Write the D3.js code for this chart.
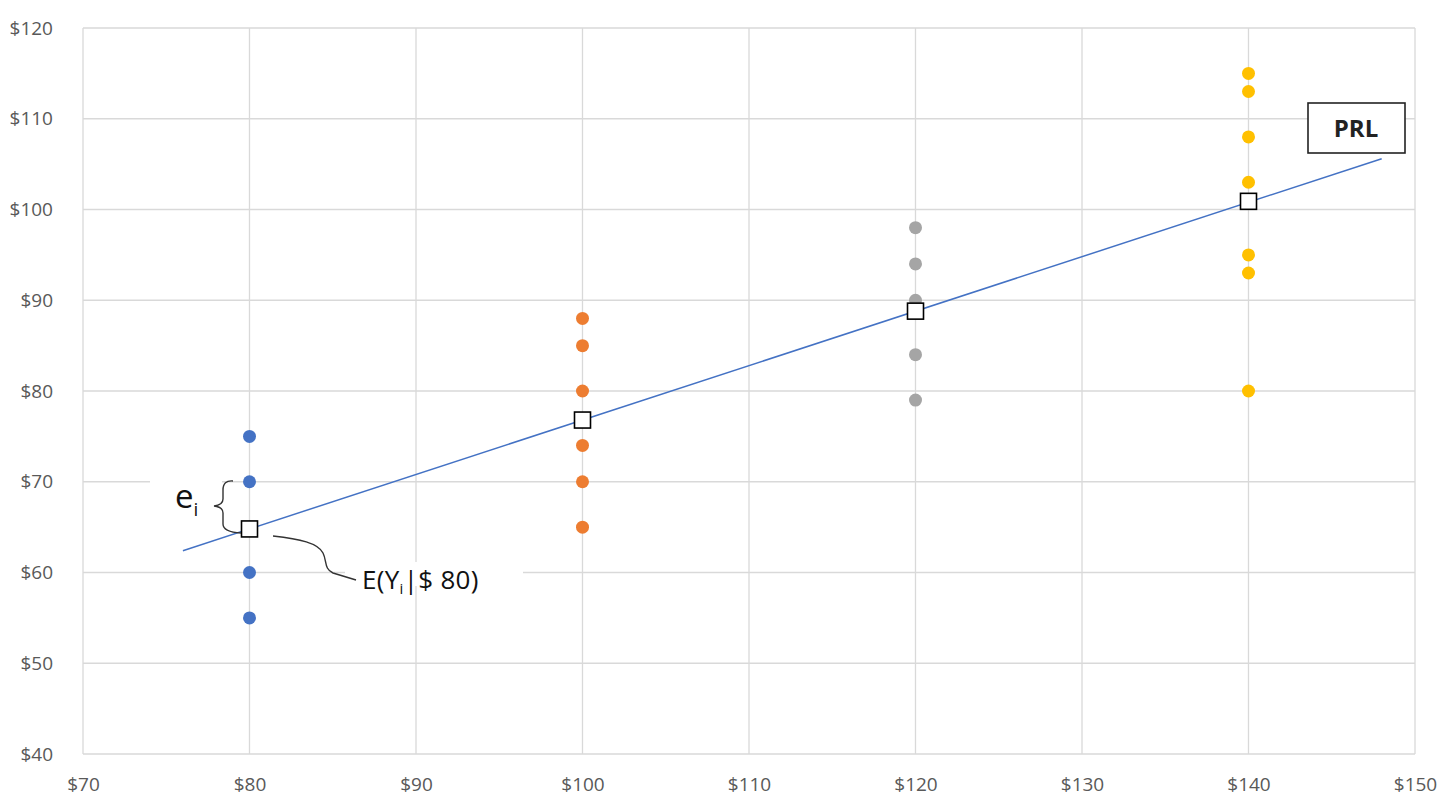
<!DOCTYPE html>
<html><head><meta charset="utf-8">
<script src="https://cdn.jsdelivr.net/npm/d3@7"></script>
<style>body{margin:0;background:#fff;} svg{display:block;}</style>
</head><body>
<svg id="c" width="1454" height="803"></svg>
<script>
const xTicks = [70, 80, 90, 100, 110, 120, 130, 140, 150];
const yTicks = [40, 50, 60, 70, 80, 90, 100, 110, 120];
const groups = [
  {x: 80,  color: "#4472C4", values: [75, 70, 65, 60, 55]},
  {x: 100, color: "#ED7D31", values: [88, 85, 80, 74, 70, 65]},
  {x: 120, color: "#A5A5A5", values: [98, 94, 90, 84, 79]},
  {x: 140, color: "#FFC000", values: [115, 113, 108, 103, 95, 93, 80]}
];
const means = [[80, 64.8], [100, 76.8], [120, 88.8], [140, 100.9]];
const prlLine = [[76, 62.4], [148, 105.6]];

const svg = d3.select("#c");
const x = d3.scaleLinear().domain([70, 150]).range([83, 1415]);
const y = d3.scaleLinear().domain([40, 120]).range([754, 28]);
const font = "'Open Sans', sans-serif";

// gridlines
svg.append("g").selectAll("line").data(xTicks).join("line")
  .attr("x1", d => x(d)).attr("x2", d => x(d)).attr("y1", y(40)).attr("y2", y(120))
  .attr("stroke", "#d9d9d9").attr("stroke-width", 1.3);
svg.append("g").selectAll("line").data(yTicks).join("line")
  .attr("x1", x(70)).attr("x2", x(150)).attr("y1", d => y(d)).attr("y2", d => y(d))
  .attr("stroke", "#d9d9d9").attr("stroke-width", 1.3);

// axes
const fmt = d => "$" + d;
const ya = svg.append("g").attr("transform", `translate(${x(70)},0)`)
  .call(d3.axisLeft(y).tickValues(yTicks).tickFormat(fmt).tickSize(0).tickPadding(30));
const xa = svg.append("g").attr("transform", `translate(0,${y(40)})`)
  .call(d3.axisBottom(x).tickValues(xTicks).tickFormat(fmt).tickSize(0).tickPadding(24));
[ya, xa].forEach(a => {
  a.select(".domain").remove();
  a.selectAll("text").attr("font-family", font).attr("font-size", 19).attr("fill", "#595959");
});

// points
groups.forEach(g => {
  svg.append("g").selectAll("circle").data(g.values).join("circle")
    .attr("cx", x(g.x)).attr("cy", d => y(d)).attr("r", 6.5).attr("fill", g.color);
});

// regression line
svg.append("path").datum(prlLine)
  .attr("d", d3.line().x(d => x(d[0])).y(d => y(d[1])))
  .attr("stroke", "#4472C4").attr("stroke-width", 1.5).attr("fill", "none");

// means
svg.append("g").selectAll("rect").data(means).join("rect")
  .attr("x", d => x(d[0]) - 8).attr("y", d => y(d[1]) - 8)
  .attr("width", 16).attr("height", 16)
  .attr("fill", "#fff").attr("stroke", "#000").attr("stroke-width", 1.6);

// PRL label
svg.append("rect").attr("x", 1308).attr("y", 103).attr("width", 97).attr("height", 50)
  .attr("fill", "#fff").attr("stroke", "#222").attr("stroke-width", 1.6);
svg.append("text").attr("x", 1356).attr("y", 137).attr("text-anchor", "middle")
  .attr("font-family", font).attr("font-weight", "bold").attr("font-size", 24).attr("fill", "#222")
  .text("PRL");

// e_i annotation
svg.append("rect").attr("x", 150).attr("y", 470).attr("width", 72).attr("height", 24).attr("fill", "#fff");
const ei = svg.append("text").attr("x", 175).attr("y", 508)
  .attr("font-family", font).attr("font-size", 33).attr("fill", "#111");
ei.append("tspan").text("e");
ei.append("tspan").attr("font-size", 19).attr("dy", 8).text("i");
svg.append("path")
  .attr("d", "M233,481 Q223,480 223,490 L223,499 Q223,505 214,506 Q223,507 223,513 L223,524 Q223,532 241,533")
  .attr("fill", "none").attr("stroke", "#333").attr("stroke-width", 1.4);

// E(Y_i | $80) annotation
svg.append("rect").attr("x", 345).attr("y", 562).attr("width", 178).attr("height", 24).attr("fill", "#fff");
svg.append("path")
  .attr("d", "M273,536 C300,539 318,543 323,553 C327,561 324,569 333,573 L356,580")
  .attr("fill", "none").attr("stroke", "#333").attr("stroke-width", 1.4);
const ey = svg.append("text").attr("x", 362).attr("y", 589)
  .attr("font-family", font).attr("font-size", 26).attr("fill", "#111").attr("letter-spacing", 0.3);
ey.append("tspan").text("E(Y");
ey.append("tspan").attr("font-size", 15).attr("dy", 5).text("i");
ey.append("tspan").attr("dy", -5).text("|$ 80)");
</script>
</body></html>
